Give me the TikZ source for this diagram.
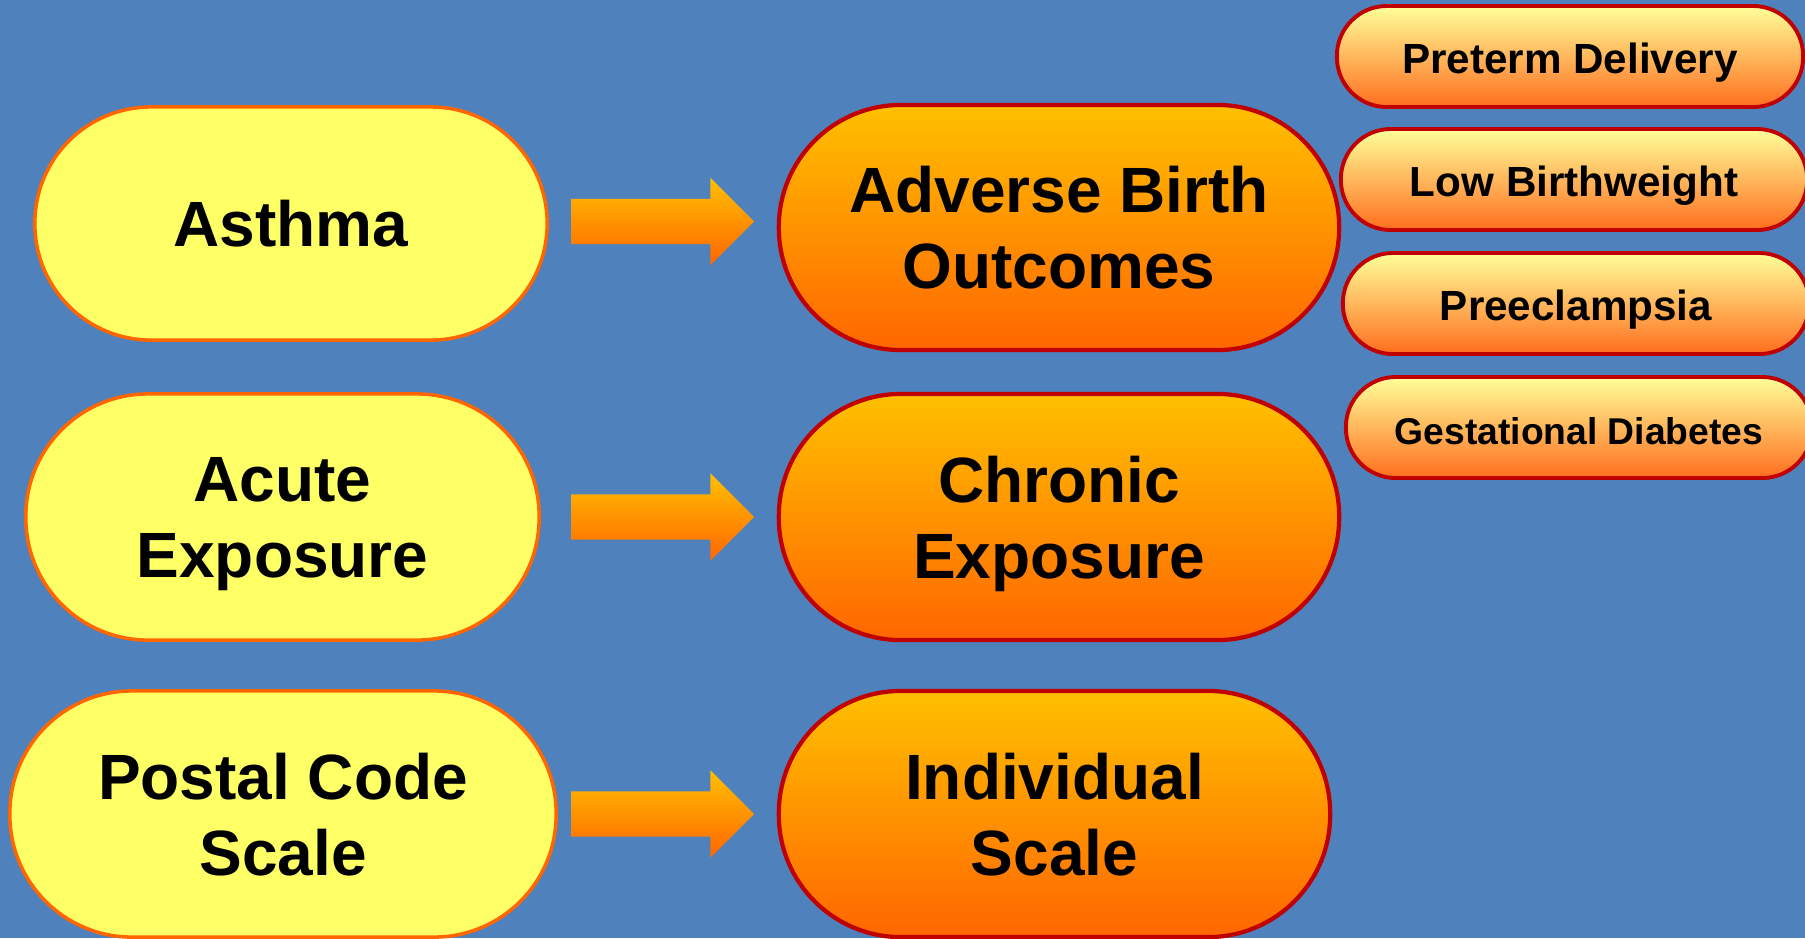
\documentclass[tikz,border=0pt]{standalone}
\usepackage{fontspec}
\setmainfont{Liberation Sans}
\usetikzlibrary{shapes.arrows,calc}
\definecolor{bgblue}{HTML}{4F81BD}
\definecolor{paleyel}{HTML}{FFFF66}
\definecolor{edgeorange}{HTML}{FF6600}
\definecolor{edgered}{HTML}{C00000}
\definecolor{goldtop}{HTML}{FFC000}
\definecolor{orangebot}{HTML}{FF6600}
\definecolor{creamtop}{HTML}{FFFF99}
\definecolor{smallbot}{HTML}{FF6E1E}
\tikzset{
  cause/.style={draw=edgeorange, line width=1pt, fill=paleyel, inner sep=0pt,
    align=center, text depth=0pt, font=\bfseries\fontsize{18.2}{21.6}\selectfont},
  effect/.style={draw=edgered, line width=1.2pt, top color=goldtop, bottom color=orangebot,
    inner sep=0pt, align=center, text depth=0pt, font=\bfseries\fontsize{18.2}{21.6}\selectfont},
  outcome/.style={draw=edgered, line width=1.1pt, top color=creamtop, bottom color=smallbot,
    inner sep=0pt, minimum width=4.66cm, minimum height=1.01cm, rounded corners=0.5cm,
    text height=0.95em, text depth=0pt, font=\bfseries\fontsize{12}{14}\selectfont},
  blockarrow/.style={single arrow, draw=none, inner xsep=0pt, inner ysep=0.22cm,
    minimum height=1.83cm, single arrow head extend=0.21cm, single arrow tip angle=90,
    top color=goldtop, bottom color=orangebot}
}
\begin{document}
\begin{tikzpicture}[x=0.01cm,y=-0.01cm]
  \useasboundingbox (0,0) rectangle (1805,938);
  \fill[bgblue] (0,0) rectangle (1805,938);
  % left column
  \node[cause, minimum width=5.12cm, minimum height=2.33cm, rounded corners=1.16cm]
    (asthma) at (291,223.5) {Asthma};
  \node[cause, minimum width=5.13cm, minimum height=2.46cm, rounded corners=1.22cm]
    (acute) at (282.5,517) {Acute\\Exposure};
  \node[cause, minimum width=5.46cm, minimum height=2.46cm, rounded corners=1.22cm]
    (postal) at (283,814) {Postal Code\\Scale};
  % middle column
  \node[effect, minimum width=5.60cm, minimum height=2.45cm, rounded corners=1.22cm]
    (birth) at (1059,227.5) {Adverse Birth\\Outcomes};
  \node[effect, minimum width=5.60cm, minimum height=2.46cm, rounded corners=1.22cm]
    (chronic) at (1059,517) {Chronic\\Exposure};
  \node[effect, minimum width=5.51cm, minimum height=2.46cm, rounded corners=1.22cm]
    (indiv) at (1054.5,814) {Individual\\Scale};
  % outcomes
  \node[outcome] (preterm) at (1570,56.5) {Preterm Delivery};
  \node[outcome] (lowbw) at (1574,179.5) {Low Birthweight};
  \node[outcome] (preecl) at (1576,303.5) {Preeclampsia};
  \node[outcome, font=\bfseries\fontsize{10.6}{13}\selectfont] (gdm) at (1579,427.5)
    {Gestational Diabetes};
  % arrows
  \node[blockarrow, xshift=-0.115cm, yshift=0.04cm] (arr1)
    at ($(asthma.east)!.5!(birth.west)$) {};
  \node[blockarrow] (arr2) at (arr1 |- acute.center) {};
  \node[blockarrow] (arr3) at (arr1 |- postal.center) {};
\end{tikzpicture}
\end{document}
